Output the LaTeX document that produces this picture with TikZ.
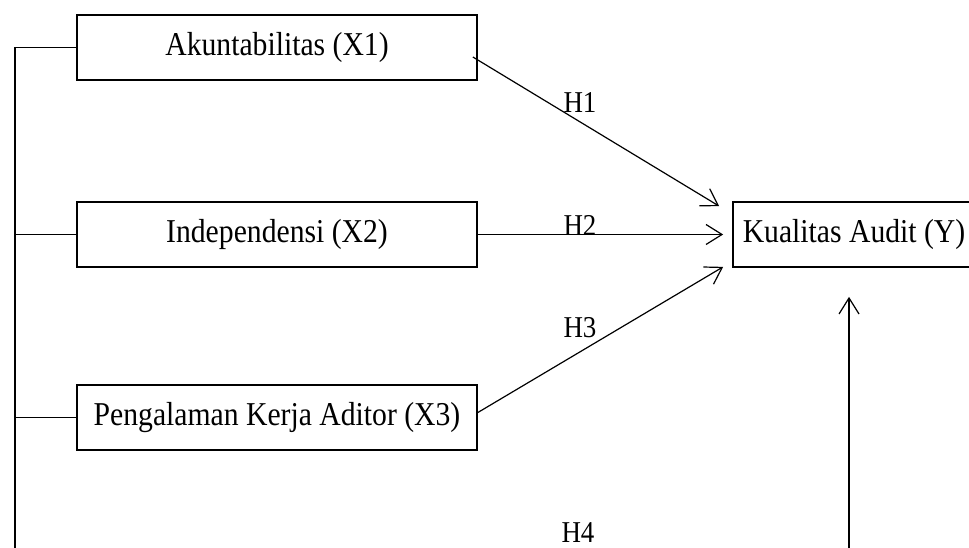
\documentclass[tikz,border=0pt]{standalone}
\usepackage{fontspec}
\setmainfont[FakeStretch=0.89]{Liberation Serif}
\usetikzlibrary{arrows.meta,positioning,calc}

\begin{document}
\begin{tikzpicture}[x=0.75pt, y=-0.75pt,
    varbox/.style={draw, line width=1.3pt, minimum width=300pt, minimum height=48.75pt,
                   inner sep=0pt, font=\fontsize{25}{28}\selectfont},
    hyp/.style={font=\fontsize{22.7}{26}\selectfont, inner sep=0pt},
    arr/.style={line width=0.9pt, -{Straight Barb[length=12pt,width=15pt]}}]
    \useasboundingbox (0,0) rectangle (969,548);
    \clip (0,0) rectangle (969,548);

    \node[varbox] (x1) at (277,47.5)  {Akuntabilitas (X1)};
    \node[varbox] (x2) at (277,234.5) {Independensi (X2)};
    \node[varbox] (x3) at (277,417.5) {Pengalaman Kerja Aditor (X3)};
    % box runs off the right edge of the page
    \node[varbox, minimum width=181.5pt] (y) at (854,234.5) {Kualitas Audit (Y)};

    % common line on the left, cut off at the bottom
    \coordinate (bus) at (15,560);
    \coordinate (h4s) at (849,560);
    \draw[line width=0.9pt] (x1.west) -- (x1.west -| bus) -- (bus);
    \draw[line width=0.9pt] (x2.west) -- (x2.west -| bus);
    \draw[line width=0.9pt] (x3.west) -- (x3.west -| bus);

    \draw[arr] ($(x1.east)+(-5,9.5)$) -- ($(y.north west)+(-13,5)$);
    \draw[arr] (x2.east)              -- ($(y.west)+(-9,0)$);
    \draw[arr] ($(x3.east)+(0,-5)$)   -- ($(y.south west)+(-9,-1)$);
    \draw[arr] (h4s)                  -- (h4s |- {$(y.south)+(0,29)$});

    \node[hyp] (h1) at (580,103) {H1};
    \node[hyp] (h2) at (580,225) {H2};
    \node[hyp] (h3) at (580,328) {H3};
    \node[hyp] (h4) at (578,533) {H4};
\end{tikzpicture}
\end{document}
